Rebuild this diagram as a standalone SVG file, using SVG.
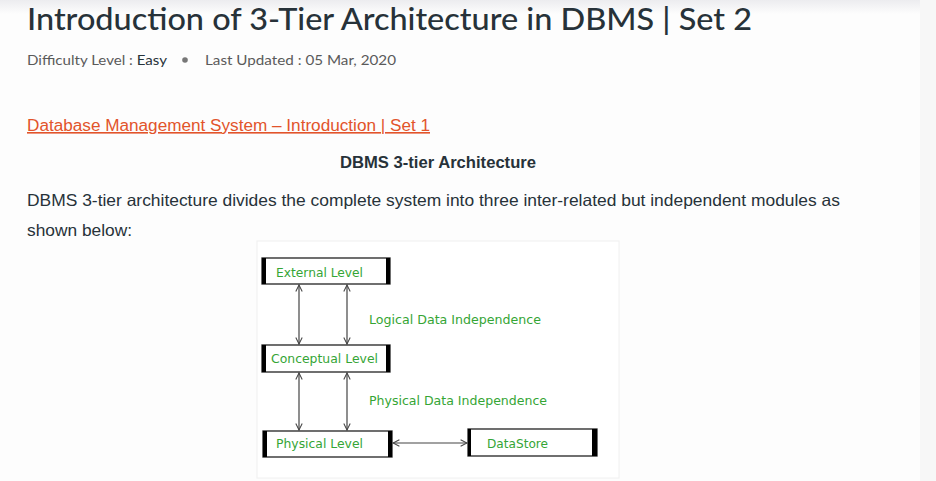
<svg xmlns="http://www.w3.org/2000/svg" width="936" height="481" viewBox="0 0 936 481">
<defs>
<style>
.pg{font-family:"Liberation Sans",Arial,sans-serif;fill:#273239}
.ttl{font-family:Lato,"Liberation Sans",sans-serif;font-size:30px;font-weight:500;fill:#273239}
.meta{font-family:Lato,"Liberation Sans",sans-serif;font-size:14px;fill:#5a5a5a}
.lnk{font-family:"Liberation Sans",Arial,sans-serif;font-size:16px;fill:#e2542b}
.lbl{font-family:"DejaVu Sans",Verdana,sans-serif;font-size:12.5px;fill:#35a535}
.box{fill:#fff;stroke:#222;stroke-width:1.3}
.bar{fill:#000}
.con{stroke:#444;stroke-width:1.2;fill:none}
</style>
<marker id="ah" viewBox="0 0 10 10" refX="9" refY="5" markerWidth="8" markerHeight="8" orient="auto-start-reverse" markerUnits="userSpaceOnUse">
<path d="M1,1 L9,5 L1,9" fill="none" stroke="#444" stroke-width="1.3"/>
</marker>
<linearGradient id="topg" x1="0" y1="0" x2="0" y2="1">
<stop offset="0" stop-color="#ececef"/>
<stop offset="1" stop-color="#fdfdfd"/>
</linearGradient>
</defs>
<rect width="936" height="481" fill="#fdfdfd"/>
<rect width="936" height="14" fill="url(#topg)"/>
<rect x="920" y="0" width="16" height="481" fill="#f7f7f7"/>

<text class="ttl" x="27" y="30" textLength="725" lengthAdjust="spacingAndGlyphs">Introduction of 3-Tier Architecture in DBMS | Set 2</text>
<text class="meta" x="27" y="65"><tspan textLength="140" lengthAdjust="spacingAndGlyphs">Difficulty Level : <tspan fill="#273239">Easy</tspan></tspan></text>
<circle cx="185" cy="60" r="2.8" fill="#777"/>
<text class="meta" x="205" y="65" textLength="191" lengthAdjust="spacingAndGlyphs">Last Updated : 05 Mar, 2020</text>

<text class="lnk" x="27" y="131" textLength="403" lengthAdjust="spacingAndGlyphs" text-decoration="underline">Database Management System – Introduction | Set 1</text>
<text class="pg" x="340" y="168" font-size="16" font-weight="bold" textLength="196" lengthAdjust="spacingAndGlyphs">DBMS 3-tier Architecture</text>
<text class="pg" x="27" y="206" font-size="16.5" textLength="813" lengthAdjust="spacingAndGlyphs">DBMS 3-tier architecture divides the complete system into three inter-related but independent modules as</text>
<text class="pg" x="27" y="236" font-size="16.5" textLength="105" lengthAdjust="spacingAndGlyphs">shown below:</text>

<rect x="257" y="241" width="362" height="237" fill="#fff" stroke="#f0f0f0" stroke-width="1"/>

<g id="connectors">
<line class="con" x1="299" y1="285" x2="299" y2="344" marker-start="url(#ah)" marker-end="url(#ah)"/>
<line class="con" x1="347" y1="285" x2="347" y2="344" marker-start="url(#ah)" marker-end="url(#ah)"/>
<line class="con" x1="299" y1="373" x2="299" y2="430" marker-start="url(#ah)" marker-end="url(#ah)"/>
<line class="con" x1="347" y1="373" x2="347" y2="430" marker-start="url(#ah)" marker-end="url(#ah)"/>
<line class="con" x1="393" y1="443" x2="467" y2="443" marker-start="url(#ah)" marker-end="url(#ah)"/>
</g>

<text class="lbl" x="369" y="324" textLength="172" lengthAdjust="spacingAndGlyphs">Logical Data Independence</text>
<text class="lbl" x="369" y="405" textLength="178" lengthAdjust="spacingAndGlyphs">Physical Data Independence</text>

<g id="external">
<rect class="box" x="262" y="258" width="128" height="26"/>
<rect class="bar" x="262" y="258" width="4" height="26"/>
<rect class="bar" x="386" y="258" width="4" height="26"/>
<text class="lbl" x="276" y="277" textLength="87" lengthAdjust="spacingAndGlyphs">External Level</text>
</g>
<g id="conceptual">
<rect class="box" x="262" y="345" width="128" height="27"/>
<rect class="bar" x="262" y="345" width="4" height="27"/>
<rect class="bar" x="386" y="345" width="4" height="27"/>
<text class="lbl" x="271" y="363" textLength="107" lengthAdjust="spacingAndGlyphs">Conceptual Level</text>
</g>
<g id="physical">
<rect class="box" x="263" y="431" width="129" height="26"/>
<rect class="bar" x="263" y="431" width="4" height="26"/>
<rect class="bar" x="388" y="431" width="4" height="26"/>
<text class="lbl" x="276" y="448" textLength="87" lengthAdjust="spacingAndGlyphs">Physical Level</text>
</g>
<g id="datastore">
<rect class="box" x="468" y="429" width="129" height="27"/>
<rect class="bar" x="468" y="429" width="3" height="27"/>
<rect class="bar" x="592" y="429" width="5" height="27"/>
<text class="lbl" x="487" y="448" textLength="61" lengthAdjust="spacingAndGlyphs">DataStore</text>
</g>
</svg>
